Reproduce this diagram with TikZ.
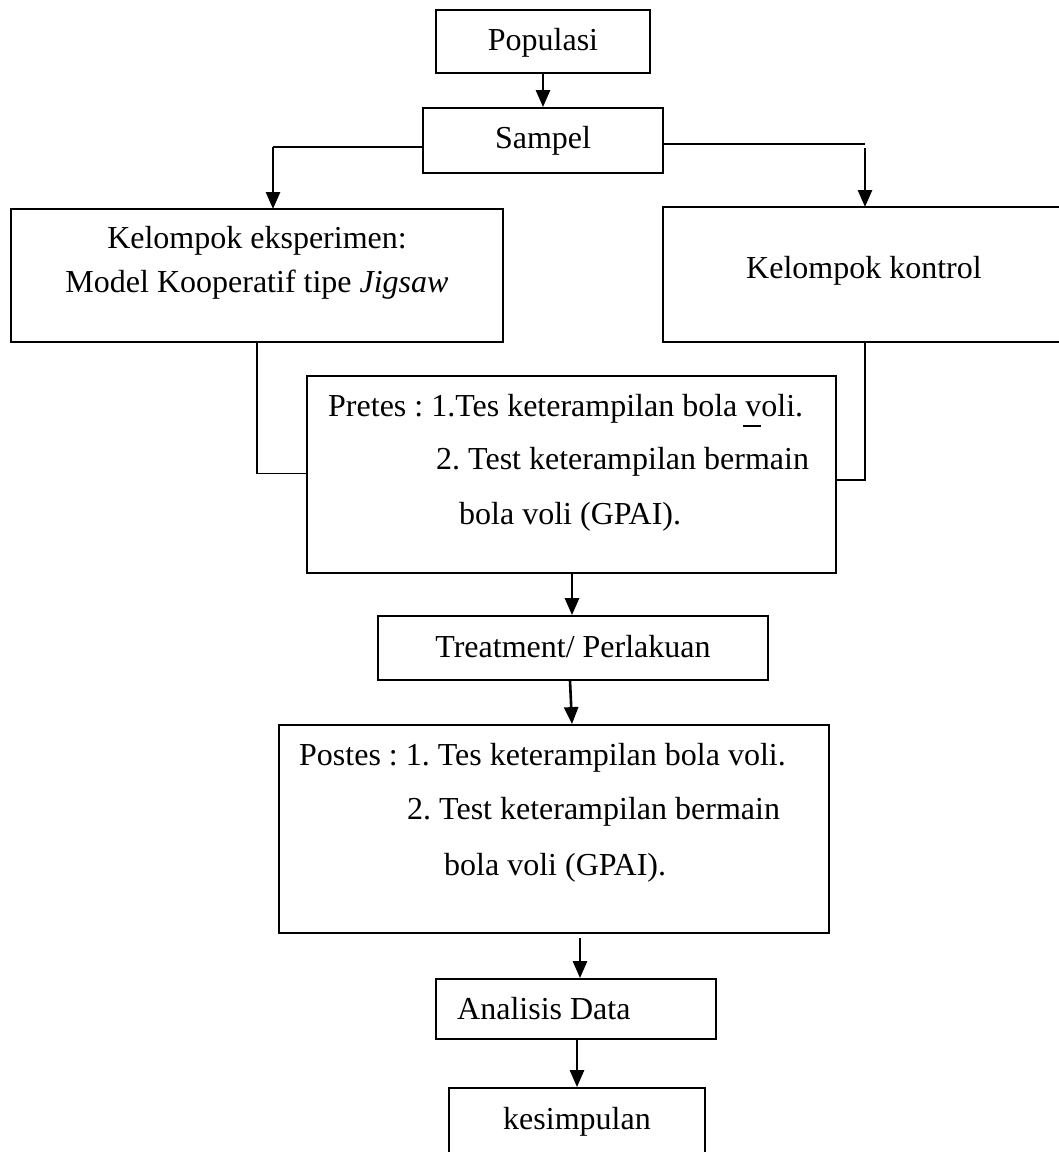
\documentclass[tikz,border=0pt]{standalone}
\usepackage{fontspec}
\setmainfont{Liberation Serif}
\usetikzlibrary{arrows.meta}
\newcommand{\ulv}{{\setbox0\hbox{v}\rlap{\kern-2pt\rule[-11pt]{\dimexpr\wd0+2pt\relax}{1.8pt}}v}}
\tikzset{
  box/.style={draw=black, line width=1.8pt, rectangle, inner sep=0pt, fill=white},
  txt/.style={inner sep=0pt, font=\fontsize{32}{38}\selectfont\frenchspacing},
  arr/.style={line width=2.6pt, -{Triangle[length=17pt,width=14pt]}},
  lnk/.style={line width=1.8pt}
}
\begin{document}
\begin{tikzpicture}[x=1pt,y=-1pt]
\clip (0,0) rectangle (1059,1152);
\fill[white] (0,0) rectangle (1059,1152);
% boxes
\node[box, minimum width=214pt, minimum height=63pt] (pop) at (543,41.5) {};
\node[box, minimum width=240pt, minimum height=65pt] (samp) at (543,140.5) {};
\node[box, minimum width=492pt, minimum height=133pt] (eksp) at (257,275.5) {};
\node[box, minimum width=402pt, minimum height=135pt] (kont) at (864,274.5) {};
\node[box, minimum width=529pt, minimum height=197pt] (pre) at (571.5,474.5) {};
\node[box, minimum width=390pt, minimum height=64pt] (treat) at (573,648) {};
\node[box, minimum width=550pt, minimum height=208pt] (post) at (554,829) {};
\node[box, minimum width=280pt, minimum height=60pt] (anal) at (576,1009) {};
\node[box, minimum width=256pt, minimum height=87pt] (kes) at (577,1131.5) {};
% texts
\node[txt, anchor=base] (tpop) at (543,50) {Populasi};
\node[txt, anchor=base] (tsamp) at (543,148) {Sampel};
\node[txt, anchor=base] (teksp1) at (257,248) {Kelompok eksperimen:};
\node[txt, anchor=base] (teksp2) at (257,292) {Model Kooperatif tipe \textit{Jigsaw}};
\node[txt, anchor=base] (tkont) at (864,278) {Kelompok kontrol};
\node[txt, anchor=base west] (tpre1) at (328,416) {Pretes : 1.Tes keterampilan bola \ulv oli.};
\node[txt, anchor=base west] (tpre2) at (436,469) {2. Test keterampilan bermain};
\node[txt, anchor=base west] (tpre3) at (459,524) {bola voli (GPAI).};
\node[txt, anchor=base] (ttreat) at (573,657) {Treatment/ Perlakuan};
\node[txt, anchor=base west] (tpost1) at (299,765) {Postes : 1. Tes keterampilan bola voli.};
\node[txt, anchor=base west] (tpost2) at (407,819) {2. Test keterampilan bermain};
\node[txt, anchor=base west] (tpost3) at (444,875) {bola voli (GPAI).};
\node[txt, anchor=base west] (tanal) at (457,1019) {Analisis Data};
\node[txt, anchor=base] (tkes) at (577,1129) {kesimpulan};
% connector points
\coordinate (ec) at (273,147);
\coordinate (ein) at (273,209);
\coordinate (kc) at (865,144);
\coordinate (kd) at (865,148);
\coordinate (kin) at (865,207);
\coordinate (eout) at (257,342);
\coordinate (kout) at (865,342);
\coordinate (pa) at (580,938);
% connectors
\draw[arr] (pop.south) -- (samp.north);
\draw[lnk] (samp.west |- ec) -- (ec);
\draw[arr] (ec) -- (ein);
\draw[lnk] (samp.east |- kc) -- (kc);
\draw[arr] (kd) -- (kin);
\draw[lnk] (eout) |- ([yshift=1pt]pre.west);
\draw[lnk] (kout) |- ([yshift=-5.5pt]pre.east);
\draw[arr] (pre.south -| 572,0) -- (treat.north -| 572,0);
\draw[arr] (treat.south -| 570,0) -- (post.north -| 572,0);
\draw[arr] (pa) -- (pa |- anal.north);
\draw[arr] (anal.south -| kes.north) -- (kes.north);
\end{tikzpicture}
\end{document}
